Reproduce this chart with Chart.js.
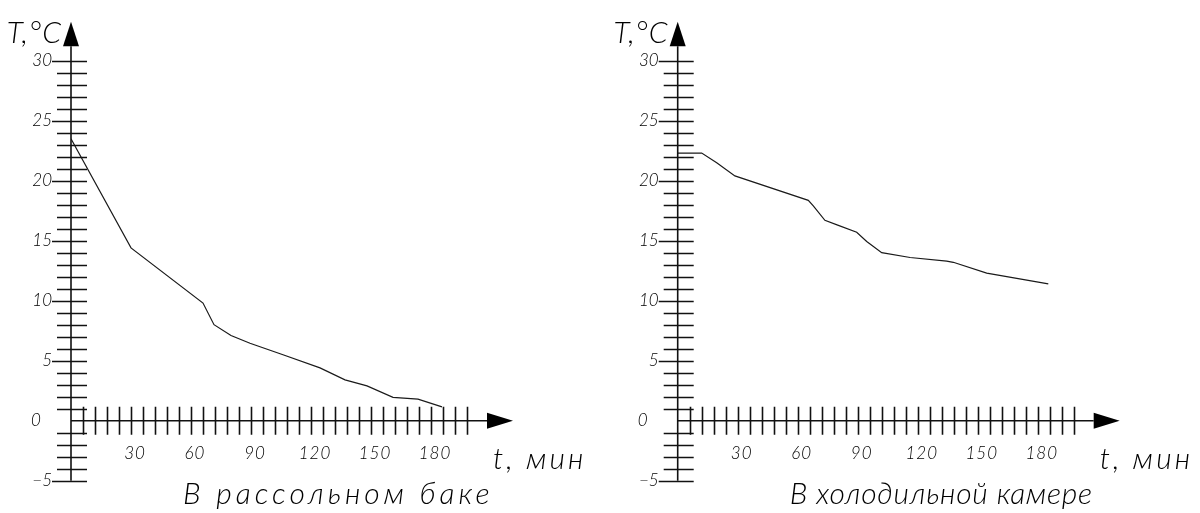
<!DOCTYPE html>
<html><head><meta charset="utf-8">
<script src="https://cdn.jsdelivr.net/npm/chart.js@4"></script>
<style>
html,body{margin:0;padding:0;background:#fff;width:1200px;height:513px;overflow:hidden}
canvas{position:absolute;top:0}
</style></head>
<body>
<canvas id="c1" width="600" height="513" style="left:0"></canvas>
<canvas id="c2" width="600" height="513" style="left:600px"></canvas>
<script>
// ---- data (time in minutes, temperature in °C) ----
const brineTimes = [0, 30, 66, 71.5, 80, 89.5, 106, 124.5, 137, 148, 161, 173.5, 185.5];
const brineTemps = [23.5, 14.4, 9.8, 8.0, 7.1, 6.45, 5.5, 4.4, 3.4, 2.9, 1.95, 1.8, 1.15];

const coldTimes = [0, 12, 19.5, 28.6, 65.3, 67.8, 73.6, 80, 89.5, 94.5, 102, 116.2, 134.5, 137.8, 154.5, 185.3];
const coldTemps = [22.3, 22.3, 21.5, 20.4, 18.36, 17.9, 16.7, 16.3, 15.7, 14.94, 14.0, 13.6, 13.3, 13.2, 12.3, 11.4];

const yLabelValues = [-5, 0, 5, 10, 15, 20, 25, 30];
const xLabelValues = [30, 60, 90, 120, 150, 180];
const yAxisTitle = 'T,°C';
const xAxisTitle = 't, мин';
const chartTitles = ['В рассольном баке', 'В холодильной камере'];

const FONT = 'Lato, "Open Sans", sans-serif';

function fmt(v){ return v < 0 ? '\u2212' + Math.abs(v) : String(v); }

const cadAxes = {
  id: 'cadAxes',
  afterDatasetsDraw(chart, args, opts) {
    const ctx = chart.ctx, xs = chart.scales.x, ys = chart.scales.y;
    const X = v => xs.getPixelForValue(v), Y = v => ys.getPixelForValue(v);
    const x0 = X(0), y0 = Y(0);
    ctx.save();
    ctx.strokeStyle = '#111'; ctx.fillStyle = '#000'; ctx.lineWidth = 1.6;
    // y axis line
    ctx.beginPath(); ctx.moveTo(x0, Y(-5)); ctx.lineTo(x0, Y(31.2)); ctx.stroke();
    // y arrow
    ctx.beginPath(); ctx.moveTo(x0, Y(33.25)); ctx.lineTo(x0 - 8, Y(31.2)); ctx.lineTo(x0 + 8, Y(31.2)); ctx.closePath(); ctx.fill();
    // x axis line
    ctx.beginPath(); ctx.moveTo(x0, y0); ctx.lineTo(X(208), y0); ctx.stroke();
    // x arrow
    ctx.beginPath(); ctx.moveTo(X(221), y0); ctx.lineTo(X(208), y0 - 8); ctx.lineTo(X(208), y0 + 8); ctx.closePath(); ctx.fill();
    // y ticks every 1 °C
    ctx.beginPath();
    for (let v = -5; v <= 30; v++) {
      if (v === 0) continue;
      const y = Math.round(Y(v)) + 0.5;
      ctx.moveTo(x0 - (v % 5 === 0 ? 19 : 14), y); ctx.lineTo(x0 + 16, y);
    }
    ctx.stroke();
    // x ticks every 6 min
    ctx.beginPath();
    for (let t = 6; t <= 198; t += 6) {
      const x = Math.round(X(t)) + 0.5;
      ctx.moveTo(x, y0 - 14); ctx.lineTo(x, y0 + 14);
    }
    ctx.stroke();
    // y labels
    ctx.font = 'italic 300 17px ' + FONT;
    ctx.textBaseline = 'middle';
    yLabelValues.forEach(v => {
      if (v === 0) { ctx.textAlign = 'center'; ctx.fillText('0', x0 - 35, Y(0)); }
      else { ctx.textAlign = 'right'; ctx.fillText(fmt(v), x0 - 19, Y(v)); }
    });
    // x labels
    ctx.textAlign = 'center';
    ctx.letterSpacing = '1px';
    xLabelValues.forEach(v => ctx.fillText(fmt(v), X(v) + 4, y0 + 33));
    // axis titles
    ctx.font = 'italic 300 30px ' + FONT;
    ctx.letterSpacing = '1px';
    ctx.textAlign = 'right'; ctx.textBaseline = 'alphabetic';
    ctx.fillText(yAxisTitle, x0 - 9, 43);
    ctx.textAlign = 'left';
    ctx.letterSpacing = '3px';
    ctx.fillText(xAxisTitle, X(211), y0 + 48);
    // chart title
    ctx.letterSpacing = opts.spacing + 'px';
    ctx.fillText(opts.title, x0 + 112, 504);
    ctx.restore();
  }
};

function makeChart(id, times, temps, title, padLeft, spacing) {
  const pts = times.map((t, i) => ({x: t, y: temps[i]}));
  return new Chart(document.getElementById(id), {
    type: 'line',
    data: { datasets: [{ data: pts, borderColor: '#1a1a1a', borderWidth: 1.2, pointRadius: 0, tension: 0, fill: false }] },
    options: {
      responsive: false, animation: false, devicePixelRatio: 1,
      layout: { padding: { left: padLeft, right: 600 - padLeft - 400, top: 60.7, bottom: 32.3 } },
      scales: {
        x: { type: 'linear', min: 0, max: 200, display: false },
        y: { type: 'linear', min: -5, max: 30, display: false }
      },
      plugins: { legend: { display: false }, tooltip: { enabled: false }, cadAxes: { title: title, spacing: spacing } }
    },
    plugins: [cadAxes]
  });
}

makeChart('c1', brineTimes, brineTemps, chartTitles[0], 71, 4);
makeChart('c2', coldTimes, coldTemps, chartTitles[1], 77.7, 0.7);
</script>
</body></html>
